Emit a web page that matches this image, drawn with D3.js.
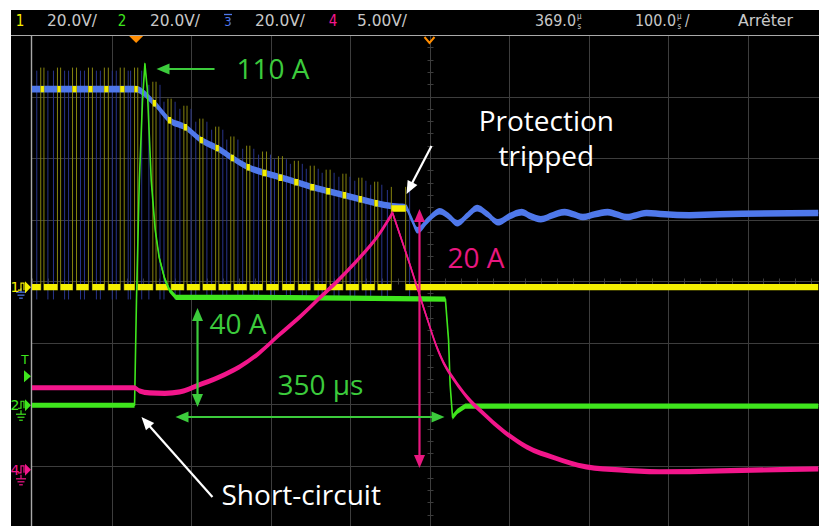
<!DOCTYPE html>
<html>
<head>
<meta charset="utf-8">
<script src="https://cdn.jsdelivr.net/npm/d3@7"></script>
<style>
  html, body { margin: 0; padding: 0; background: #fff; }
  svg { display: block; }
</style>
</head>
<body>
<svg id="scope" width="819" height="526"></svg>
<script>
// ---------------------------------------------------------------
// Acquisition settings
// ---------------------------------------------------------------
const timePerDiv = 100;      // µs / div
const timeCentre = 369.0;    // µs at the centre graticule line
const triggerTime = 0;       // µs
const channelNames = ["1", "2", "3", "4"];
const channelScaleLabels = ["20.0V/", "20.0V/", "20.0V/", "5.00V/"];
const channelVoltsPerDiv = [20, 20, 20, 5];
const channelGroundDiv = [-0.1, -2.02, -0.1, -3.07];   // ground marker, divisions from centre
const triggerLevel = 9.4;    // V on channel 2
const delayLabel = "369.0";
const timebaseLabel = "100.0";
const runStateLabel = "Arrêter";

// ---------------------------------------------------------------
// Recorded traces  [time µs, volts]
// ---------------------------------------------------------------
// Channel 3 : DC bus voltage, sags during the fault then rings after turn-off
const ch3Trace = [
  [-131, 64.4], [-1, 64.4], [23, 59.8], [42, 54.3], [62, 52.0], [82, 47.8],
  [102, 45.2], [121, 42.0], [141, 39.0], [162, 37.1], [180, 35.8], [202, 34.1],
  [222, 32.5], [242, 31.2], [262, 29.9], [282, 28.6], [302, 27.3], [323, 26.3],
  [339, 26.0], [346, 22.4], [354, 18.5], [367, 21.8], [382, 24.7], [393, 23.1],
  [404, 20.8], [417, 23.4], [429, 25.7], [442, 23.7], [455, 21.1], [470, 23.1],
  [485, 24.4], [496, 23.1], [509, 22.1], [524, 23.4], [539, 24.4], [550, 23.7],
  [562, 22.8], [577, 23.7], [593, 24.4], [604, 23.7], [617, 22.8], [629, 23.4],
  [642, 24.1], [665, 23.7], [696, 23.4], [734, 23.7], [858, 24.1]
];

// Channel 1 : switching pulses  [start µs, end µs, high level V]
const ch1Pulses = [
  [-120, -116, 64.4], [-99, -95, 64.4], [-80, -75, 64.4], [-60, -55, 64.4],
  [-40, -35, 64.4], [-20, -15, 64.4], [-2, 2, 64.4], [21, 25, 59.8],
  [40, 44, 54.3], [60, 64, 52.0], [80, 84, 47.8], [100, 104, 45.2],
  [119, 123, 42.0], [139, 143, 39.0], [159, 164, 37.1], [179, 184, 35.6],
  [199, 204, 34.1], [219, 224, 32.5], [239, 244, 31.2], [260, 264, 29.9],
  [280, 284, 28.6], [300, 304, 27.3], [321, 339, 25.6]
];
const ch1Span = [-131, 858];

// Channel 2 : load current (1 V = 1 A)
const ch2Trace = [
  [-131, 0], [-2, 0], [0.4, 34], [4, 73], [8, 99], [11, 111], [14, 103],
  [19, 73], [24, 57], [29, 48], [36, 41], [42, 37.4], [50, 35.1], [143, 35.1],
  [268, 34.8], [389, 34.5], [393, 21.1], [395, 6.5], [398, -3.9], [404, -2.0],
  [414, -0.3], [858, -0.3]
];

// Channel 4 : fault-current sense
const ch4Rise = [
  [-131, 6.67], [-2, 6.67], [4, 6.42], [17, 6.26], [36, 6.22], [55, 6.34],
  [76, 6.83], [105, 7.56], [130, 8.37], [155, 9.51], [180, 10.98], [206, 12.44],
  [231, 13.99], [256, 15.53], [281, 17.24], [306, 19.19], [322.5, 20.89]
];
const ch4Decay = [
  [322.5, 20.89], [344, 16.75], [366.5, 12.2], [378, 10.0], [388, 8.54],
  [400, 7.32], [417, 5.85], [436, 4.63], [463, 3.09], [491, 1.87], [526, 0.98],
  [566, 0.24], [608, 0], [658, -0.16], [734, -0.08], [858, 0.08]
];

// ---------------------------------------------------------------
// Annotations (h = horizontal divisions from centre, v = vertical divisions)
// ---------------------------------------------------------------
const noteTexts = ["110 A", "Protection", "tripped", "20 A", "40 A", "350 µs", "Short-circuit"];
const noteH = [-2.428, 1.470, 1.470, 0.226, -2.767, -1.912, -2.616];
const noteV = [3.285, 2.439, 1.870, 0.211, -0.862, -1.854, -3.642];
const noteAnchor = ["start", "middle", "middle", "start", "start", "start", "start"];
const noteKind = ["green", "white", "white", "pink", "green", "green", "white"];

// arrows: [h1, v1, h2, v2, double-headed?]
const arrowCoords = [
  [-2.704, 3.447, -3.434, 3.447, false],
  [0.025, 2.195, -0.289, 1.415, false],
  [-0.126, 1.171, -0.126, -3.041, true],
  [-2.918, -0.439, -2.918, -2.049, true],
  [-3.195, -2.211, 0.189, -2.211, true],
  [-2.730, -3.512, -3.623, -2.211, false]
];
const arrowKind = ["green", "white", "pink", "green", "green", "white"];

// ---------------------------------------------------------------
// Drawing
// ---------------------------------------------------------------
const W = 819, H = 526;
const screen = { left: 11, top: 10 };
const grat = { x0: 32, y0: 35, divW: 79.5, divH: 61.5, hDivs: 10, vDivs: 8 };

const colors = {
  ch: ["#f4ef00", "#3fe51d", "#4f78ea", "#f2168b"],
  grid: "#3d3d3d",
  frameLine: "#a9a9a9",
  text: "#c8c8c8",
  orange: "#ff8c00",
  green: "#3ccb3c",
  pink: "#e8177f",
  white: "#ffffff",
  yEdge: "#86840f",
  bEdge: "#28348a"
};

const svg = d3.select("#scope");

const x = d3.scaleLinear()
  .domain([timeCentre - timePerDiv * grat.hDivs / 2, timeCentre + timePerDiv * grat.hDivs / 2])
  .range([grat.x0, grat.x0 + grat.divW * grat.hDivs]);
const hDiv = d3.scaleLinear().domain([-grat.hDivs / 2, grat.hDivs / 2]).range(x.range());
const yDiv = d3.scaleLinear().domain([-grat.vDivs / 2, grat.vDivs / 2])
  .range([grat.y0 + grat.divH * grat.vDivs, grat.y0]);
const yCh = (ch, v) => yDiv(channelGroundDiv[ch] + v / channelVoltsPerDiv[ch]);

// background
svg.append("rect").attr("width", W).attr("height", H).attr("fill", "#fff");
svg.append("rect").attr("x", screen.left).attr("y", screen.top)
  .attr("width", W - screen.left).attr("height", H - screen.top).attr("fill", "#000");

svg.append("defs").append("clipPath").attr("id", "plotClip")
  .append("rect").attr("x", grat.x0).attr("y", grat.y0)
  .attr("width", W - grat.x0).attr("height", H - grat.y0);

// graticule
const gGrid = svg.append("g").attr("clip-path", "url(#plotClip)");
const vLines = d3.range(1, grat.hDivs).map(i => x.domain()[0] + i * timePerDiv);
gGrid.selectAll("line.v").data(vLines).join("line")
  .attr("x1", d => Math.round(x(d)) + 0.5).attr("x2", d => Math.round(x(d)) + 0.5)
  .attr("y1", grat.y0).attr("y2", H)
  .attr("stroke", colors.grid).attr("stroke-width", 1);
const hLines = d3.range(-grat.vDivs / 2 + 1, grat.vDivs / 2);
gGrid.selectAll("line.h").data(hLines).join("line")
  .attr("x1", grat.x0).attr("x2", W)
  .attr("y1", d => Math.round(yDiv(d)) + 0.5).attr("y2", d => Math.round(yDiv(d)) + 0.5)
  .attr("stroke", colors.grid).attr("stroke-width", 1);

// minor ticks on the centre axes
const xc = Math.round(x(timeCentre)) + 0.5;
const yc = Math.round(yDiv(0)) + 0.5;
gGrid.selectAll("line.tv").data(d3.range(-grat.vDivs * 5 / 2, grat.vDivs * 5 / 2 + 1)).join("line")
  .attr("x1", xc - 3).attr("x2", xc + 3)
  .attr("y1", d => Math.round(yDiv(d / 5)) + 0.5).attr("y2", d => Math.round(yDiv(d / 5)) + 0.5)
  .attr("stroke", colors.grid).attr("stroke-width", 1);
gGrid.selectAll("line.th").data(d3.range(-grat.hDivs * 5 / 2, grat.hDivs * 5 / 2 + 1)).join("line")
  .attr("y1", yc - 3).attr("y2", yc + 3)
  .attr("x1", d => Math.round(hDiv(d / 5)) + 0.5).attr("x2", d => Math.round(hDiv(d / 5)) + 0.5)
  .attr("stroke", colors.grid).attr("stroke-width", 1);

// frame lines
svg.append("line").attr("x1", screen.left).attr("x2", W).attr("y1", grat.y0 + 0.5).attr("y2", grat.y0 + 0.5)
  .attr("stroke", colors.frameLine).attr("stroke-width", 1.2);
svg.append("line").attr("x1", grat.x0 - 0.5).attr("x2", grat.x0 - 0.5).attr("y1", grat.y0).attr("y2", H)
  .attr("stroke", colors.frameLine).attr("stroke-width", 1.4);

// ---------------------------------------------------------------
// traces
// ---------------------------------------------------------------
const gTr = svg.append("g").attr("clip-path", "url(#plotClip)");

function band(ch, pts, half, curve, lineW) {
  const px = pts.map(([t, v]) => [x(t), yCh(ch, v)]);
  const area = d3.area().x(d => d[0]).y0(d => d[1] + half).y1(d => d[1] - half).curve(curve);
  gTr.append("path").attr("d", area(px)).attr("fill", colors.ch[ch]);
  if (lineW > 0) {
    const line = d3.line().curve(curve);
    gTr.append("path").attr("d", line(px)).attr("fill", "none")
      .attr("stroke", colors.ch[ch]).attr("stroke-width", lineW).attr("stroke-linejoin", "round");
  }
}

// switching edges seen on channels 3 and 1
const edges = ch1Pulses.flatMap(([s, e, lv]) => [[s, lv], [e, lv]]);
gTr.selectAll("line.be").data(edges).join("line")
  .attr("x1", (d, i) => x(d[0] + (i % 2 ? 5 : -5))).attr("x2", (d, i) => x(d[0] + (i % 2 ? 5 : -5)))
  .attr("y1", d => yCh(2, -4)).attr("y2", d => yCh(2, d[1] + 6))
  .attr("stroke", colors.bEdge).attr("stroke-width", 1);

band(2, ch3Trace, 3.3, d3.curveMonotoneX, 1.5);

gTr.selectAll("line.ye").data(edges).join("line")
  .attr("x1", d => x(d[0])).attr("x2", d => x(d[0]))
  .attr("y1", d => yCh(0, -1)).attr("y2", d => yCh(0, d[1] + 7))
  .attr("stroke", colors.yEdge).attr("stroke-width", 1);

// channel 1 waveform from the pulse list
const ch1Trace = [[ch1Span[0], 0]];
ch1Pulses.forEach(([s, e, lv]) => { ch1Trace.push([s, 0], [s, lv], [e, lv], [e, 0]); });
ch1Trace.push([ch1Span[1], 0]);
band(0, ch1Trace, 3.2, d3.curveLinear, 0);

band(1, ch2Trace, 2.6, d3.curveLinear, 1.6);
band(3, ch4Rise, 2.6, d3.curveMonotoneX, 1.6);
band(3, ch4Decay, 2.6, d3.curveMonotoneX, 1.6);

// ---------------------------------------------------------------
// top status bar
// ---------------------------------------------------------------
const gTop = svg.append("g").attr("font-family", "'DejaVu Sans Condensed','DejaVu Sans',sans-serif")
  .attr("font-size", 15);
const chNumX = [20, 122, 228, 333];
const scaleX = [47, 150, 255, 357];
channelNames.forEach((n, i) => {
  gTop.append("text").attr("x", chNumX[i]).attr("y", 26).attr("text-anchor", "middle")
    .attr("fill", colors.ch[i]).attr("font-size", i === 2 ? 13 : 15).text(n);
  gTop.append("text").attr("x", scaleX[i]).attr("y", 26).attr("fill", colors.text)
    .attr("textLength", 50).attr("lengthAdjust", "spacingAndGlyphs").text(channelScaleLabels[i]);
});
// channel 3 is inverted: bar over its number
gTop.append("line").attr("x1", chNumX[2] - 4).attr("x2", chNumX[2] + 4).attr("y1", 14.5).attr("y2", 14.5)
  .attr("stroke", colors.ch[2]).attr("stroke-width", 1.3);

// time readouts with the stacked "µs" unit
function timeLabel(xs, value, slash) {
  gTop.append("text").attr("x", xs).attr("y", 26).attr("fill", colors.text)
    .attr("textLength", 41).attr("lengthAdjust", "spacingAndGlyphs").text(value);
  gTop.append("text").attr("x", xs + 42).attr("y", 18.5).attr("fill", colors.text)
    .attr("font-size", 8).text("µ");
  gTop.append("text").attr("x", xs + 42.5).attr("y", 28.5).attr("fill", colors.text)
    .attr("font-size", 8).text("s");
  if (slash) gTop.append("text").attr("x", xs + 50).attr("y", 26).attr("fill", colors.text).text("/");
}
timeLabel(535, delayLabel, false);
timeLabel(635, timebaseLabel, true);
gTop.append("text").attr("x", 738).attr("y", 26).attr("fill", colors.text)
  .attr("textLength", 55).attr("lengthAdjust", "spacingAndGlyphs").text(runStateLabel);

// trigger position and delay markers
const tx = x(triggerTime), dx = x(timeCentre);
svg.append("path").attr("d", `M${tx - 7},${grat.y0 + 1} L${tx + 7},${grat.y0 + 1} L${tx},${grat.y0 + 8} Z`)
  .attr("fill", colors.orange);
svg.append("path").attr("d", `M${dx - 5},${grat.y0 + 2} L${dx},${grat.y0 + 8} L${dx + 5},${grat.y0 + 2}`)
  .attr("fill", "none").attr("stroke", colors.orange).attr("stroke-width", 2);

// ---------------------------------------------------------------
// channel ground markers on the left
// ---------------------------------------------------------------
const gMk = svg.append("g").attr("font-family", "'DejaVu Sans',sans-serif");
[2, 0, 1, 3].forEach(ch => {
  const y0 = yCh(ch, 0);
  const c = colors.ch[ch];
  const g = gMk.append("g");
  if (ch !== 2) {
    g.append("text").attr("x", 15).attr("y", y0 + 5).attr("text-anchor", "middle")
      .attr("font-size", 14).attr("fill", c).text(channelNames[ch]);
    g.append("path").attr("d", `M18,${y0 + 3} h3 v-7 h3 v7`).attr("fill", "none")
      .attr("stroke", c).attr("stroke-width", 1.2);
    g.append("path").attr("d", `M25,${y0 - 6} L31,${y0} L25,${y0 + 6} Z`).attr("fill", c);
  }
  if (ch !== 0) {
    const gy = ch === 2 ? y0 + 5 : y0 + 9;
    [[5, 0], [3.5, 3], [1.8, 6]].forEach(([hw, dy]) => {
      g.append("line").attr("x1", 21 - hw).attr("x2", 21 + hw).attr("y1", gy + dy).attr("y2", gy + dy)
        .attr("stroke", c).attr("stroke-width", 1.2);
    });
    g.append("line").attr("x1", 21).attr("x2", 21).attr("y1", gy - 4).attr("y2", gy)
      .attr("stroke", c).attr("stroke-width", 1.2);
  }
});
// trigger level
const ty = yCh(1, triggerLevel);
gMk.append("text").attr("x", 25).attr("y", ty - 12).attr("text-anchor", "middle")
  .attr("font-size", 12).attr("fill", colors.ch[1]).text("T");
gMk.append("path").attr("d", `M24,${ty - 6} L31,${ty} L24,${ty + 6} Z`).attr("fill", colors.ch[1]);

// ---------------------------------------------------------------
// annotations
// ---------------------------------------------------------------
const gAn = svg.append("g").attr("font-family", "'Open Sans','Noto Sans',sans-serif").attr("font-size", 28);
noteTexts.forEach((t, i) => {
  gAn.append("text").attr("x", hDiv(noteH[i])).attr("y", yDiv(noteV[i]))
    .attr("text-anchor", noteAnchor[i])
    .attr("fill", colors[noteKind[i]]).text(t);
});

function arrowHead(g, xTip, yTip, ang, col) {
  const L = 13, Wd = 5.5;
  const bx = xTip - L * Math.cos(ang), by = yTip - L * Math.sin(ang);
  const nx = -Math.sin(ang) * Wd, ny = Math.cos(ang) * Wd;
  g.append("path").attr("d", `M${xTip},${yTip} L${bx + nx},${by + ny} L${bx - nx},${by - ny} Z`).attr("fill", col);
}
arrowCoords.forEach(([h1, v1, h2, v2, dbl], i) => {
  const col = colors[arrowKind[i]];
  const x1 = hDiv(h1), y1 = yDiv(v1), x2 = hDiv(h2), y2 = yDiv(v2);
  const ang = Math.atan2(y2 - y1, x2 - x1);
  const cut = 10;
  const sx = dbl ? x1 + cut * Math.cos(ang) : x1, sy = dbl ? y1 + cut * Math.sin(ang) : y1;
  gAn.append("line").attr("x1", sx).attr("y1", sy)
    .attr("x2", x2 - cut * Math.cos(ang)).attr("y2", y2 - cut * Math.sin(ang))
    .attr("stroke", col).attr("stroke-width", 2.2);
  arrowHead(gAn, x2, y2, ang, col);
  if (dbl) arrowHead(gAn, x1, y1, ang + Math.PI, col);
});
</script>
</body>
</html>
